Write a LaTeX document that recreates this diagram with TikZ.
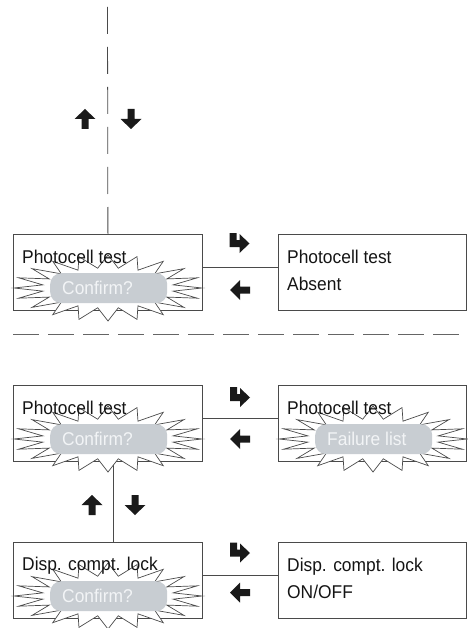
\documentclass[tikz,border=0pt]{standalone}
\usepackage{fontspec}
\setmainfont[FakeStretch=0.94]{Liberation Sans}
\definecolor{linecol}{HTML}{4A4A4A}
\definecolor{pillcol}{HTML}{C8CDD2}
\definecolor{pilltext}{HTML}{F2F4F6}
\definecolor{glyphcol}{HTML}{1A1A1A}
\newcommand{\myburst}[1]{%
  \begin{scope}[shift={(#1.north west)}]
    \filldraw[burst] (189,54) \foreach \k in {0,...,19} {
      -- ({95+66*cos(\k*18+9)},{54+20*sin(\k*18+9)})
      -- ({95+94*cos(\k*18+18)},{54+33*sin(\k*18+18)}) } -- cycle;
  \end{scope}}
\begin{document}
\begin{tikzpicture}[x=1pt,y=-1pt,
  box/.style={draw=linecol, line width=0.8pt, minimum width=189pt, minimum height=76pt, inner sep=0pt, anchor=north west},
  txt/.style={anchor=base west, inner sep=0pt, font=\fontsize{18.5}{22}\selectfont, text=black!92},
  conn/.style={draw=linecol, line width=0.8pt},
  dashline/.style={draw=linecol, line width=0.8pt, dash pattern=on 27pt off 13pt},
  hdash/.style={draw=linecol!85, line width=0.9pt, dash pattern=on 26pt off 9pt},
  burst/.style={draw=linecol, fill=white, line width=0.7pt, line join=miter},
  pill/.style={fill=pillcol, rounded corners=11pt, draw=none, minimum width=117pt, minimum height=30pt, inner sep=0pt, anchor=north west},
  pilltxt/.style={anchor=base west, inner sep=0pt, font=\fontsize{18.5}{22}\selectfont, text=pilltext},
  glyph/.style={fill=glyphcol},
  uparr/.pic={\fill[glyph] (0,-10) -- (10.5,0) -- (3.5,0) -- (3.5,10) -- (-3.5,10) -- (-3.5,0) -- (-10.5,0) -- cycle;},
  downarr/.pic={\fill[glyph] (0,10) -- (10.5,0) -- (3.5,0) -- (3.5,-10) -- (-3.5,-10) -- (-3.5,0) -- (-10.5,0) -- cycle;},
  leftarr/.pic={\fill[glyph] (-10,0) -- (0,-10) -- (0,-3.5) -- (10,-3.5) -- (10,3.5) -- (0,3.5) -- (0,10) -- cycle;},
  bentarr/.pic={\fill[glyph] (-10,-10) -- (-3,-10) -- (-3,-3) -- (0,-3) -- (0,-9) -- (10,0.5) -- (0,10) -- (0,4) -- (-10,4) -- cycle;}
]
\useasboundingbox (0,0) rectangle (467,628);

% boxes
\node[box] (b1) at (13,234) {};
\node[box, minimum width=188pt] (b2) at (278,234) {};
\node[box] (b3) at (13,385) {};
\node[box, minimum width=188pt] (b4) at (278,385) {};
\node[box] (b5) at (13,542) {};
\node[box, minimum width=188pt] (b6) at (278,542) {};

% connectors
\coordinate (top) at (107.5,5);
\draw[dashline] (b1.north) -- (top);
\coordinate (hl) at (13,334);
\coordinate (hr) at (467,334);
\draw[hdash] (hl) -- (hr);
\draw[conn] ([yshift=5pt]b1.east) -- ([yshift=5pt]b2.west);
\draw[conn] ([yshift=5pt]b3.east) -- ([yshift=5pt]b4.west);
\draw[conn] ([yshift=5pt]b5.east) -- ([yshift=5pt]b6.west);
\draw[conn] ([xshift=5.5pt]b3.south) -- ([xshift=5.5pt]b5.north);

% starbursts
\myburst{b1}
\myburst{b3}
\myburst{b4}
\myburst{b5}

% pills
\node[pill] (p1) at ([shift={(37,39)}]b1.north west) {};
\node[pill] (p3) at ([shift={(37,39)}]b3.north west) {};
\node[pill] (p4) at ([shift={(37,39)}]b4.north west) {};
\node[pill] (p5) at ([shift={(37,39)}]b5.north west) {};
\node[pilltxt] (c1) at ([shift={(12,6.5)}]p1.west) {Confirm?};
\node[pilltxt] (c3) at ([shift={(12,6.5)}]p3.west) {Confirm?};
\node[pilltxt] (c4) at ([shift={(12,6.5)}]p4.west) {Failure list};
\node[pilltxt] (c5) at ([shift={(12,6.5)}]p5.west) {Confirm?};

% texts
\node[txt] (t1) at ([shift={(9,29)}]b1.north west) {Photocell test};
\node[txt] (t2) at ([shift={(9,29)}]b2.north west) {Photocell test};
\node[txt] (t2b) at ([shift={(9,56)}]b2.north west) {Absent};
\node[txt] (t3) at ([shift={(9,29)}]b3.north west) {Photocell test};
\node[txt] (t4) at ([shift={(9,29)}]b4.north west) {Photocell test};
\node[txt] (t5) at ([shift={(9,28)}]b5.north west) {Disp. compt. lock};
\node[txt] (t6) at ([shift={(9,29)}]b6.north west) {Disp. compt. lock};
\node[txt] (t6b) at ([shift={(9,56)}]b6.north west) {ON/OFF};

% arrow glyphs
\pic at (85,119) {uparr};
\pic at (131,119) {downarr};
\pic at (92,505) {uparr};
\pic at (135,505) {downarr};
\pic at (239.5,243) {bentarr};
\pic at (240,290) {leftarr};
\pic at (240,397) {bentarr};
\pic at (240,439) {leftarr};
\pic at (240,552.5) {bentarr};
\pic at (240,592.5) {leftarr};
\end{tikzpicture}
\end{document}
